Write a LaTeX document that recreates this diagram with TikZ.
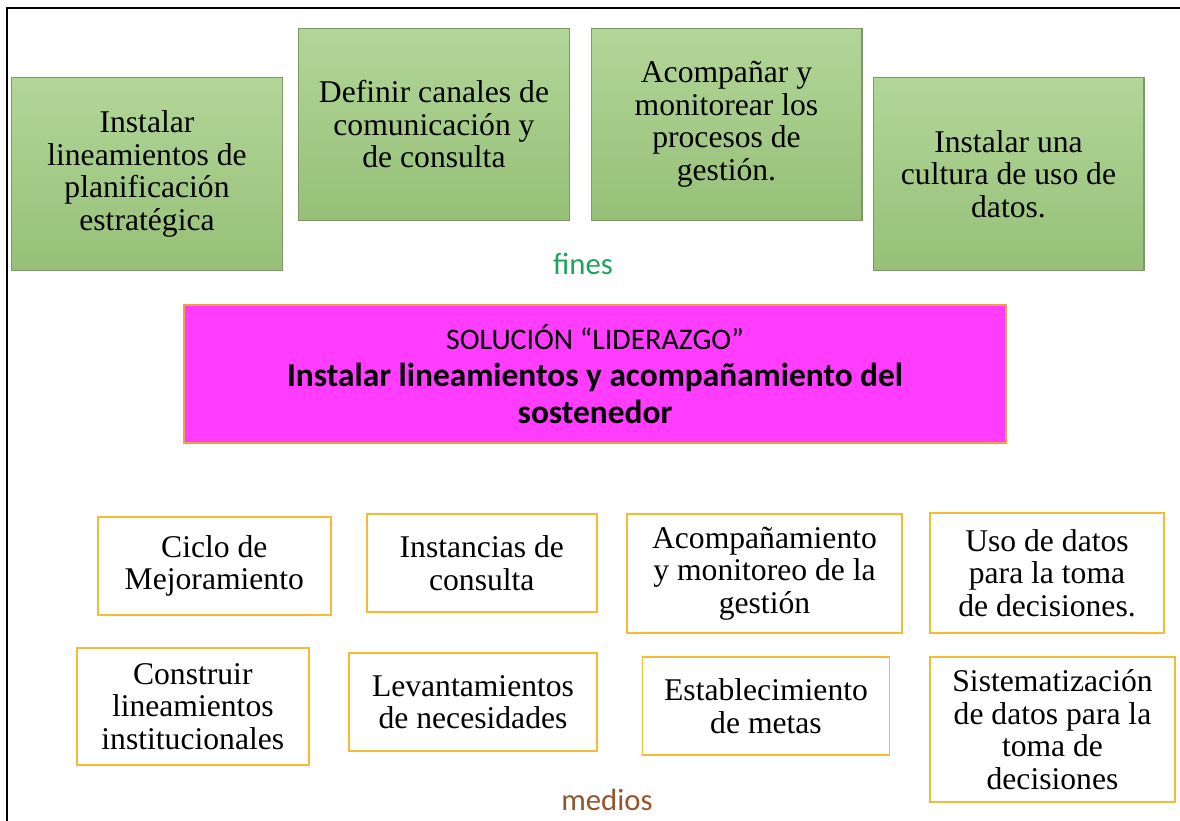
\documentclass[tikz,border=0pt]{standalone}
\usepackage{fontspec}
\setmainfont{Liberation Serif}
\newfontfamily\calibri{Carlito}
\usetikzlibrary{positioning}

\definecolor{finTop}{RGB}{178,214,152}
\definecolor{finBot}{RGB}{150,192,120}
\definecolor{finLine}{RGB}{128,150,104}
\definecolor{finText}{RGB}{30,163,92}
\definecolor{medText}{RGB}{150,84,42}
\definecolor{solFill}{RGB}{255,60,255}
\definecolor{solLine}{RGB}{238,160,70}
\definecolor{medLine}{RGB}{246,186,52}

\begin{document}
\begin{tikzpicture}[
  x=0.02cm, y=-0.02cm,
  font=\fontsize{18}{18.5}\selectfont,
  fin/.style={
    rectangle, draw=finLine, line width=0.6pt,
    top color=finTop, bottom color=finBot,
    minimum width=5.42cm, minimum height=3.85cm, align=center,
    inner sep=0pt
  },
  medio/.style={
    rectangle, draw=medLine, line width=1.1pt, fill=white,
    minimum height=1.96cm, align=center, inner sep=0pt
  },
  solucion/.style={
    rectangle, draw=solLine, line width=0.8pt, fill=solFill,
    minimum width=16.44cm, minimum height=2.76cm, align=center,
    font=\calibri\fontsize{19}{21}\selectfont
  },
  tag/.style={font=\calibri\fontsize{17.5}{20}\selectfont},
]

\useasboundingbox (0,0) rectangle (1180,821);

% Frame (left and top edges only)
\draw[line width=1.2pt] (7,821) -- (7,8) -- (1180,8);

% Fines
\node[fin] (fin1) at (147, 174)
  {Instalar\\lineamientos de\\planificación\\estratégica};
\node[fin] (fin2) at (434, 124.5)
  {Definir canales de\\comunicación y\\de consulta};
\node[fin] (fin3) at (726.5, 124.5)
  {Acompañar y\\monitorear los\\procesos de\\gestión.};
\node[fin] (fin4) at (1008.5, 174)
  {Instalar una\\cultura de uso de\\datos.};

\node[tag, text=finText] (fines) at (583, 264) {fines};

% Solution
\node[solucion] (sol) at (595, 374)
  {{\fontsize{17}{21}\selectfont SOLUCIÓN “LIDERAZGO”}\\
   \textbf{Instalar lineamientos y acompañamiento del}\\
   \textbf{sostenedor}};

% Medios, first row
\node[medio, minimum width=4.67cm] (ciclo) at (214.3, 566)
  {Ciclo de\\Mejoramiento};
\node[medio, minimum width=4.61cm] (instancias) at (481.8, 563)
  {Instancias de\\consulta};
\node[medio, minimum width=5.5cm, minimum height=2.38cm] (acomp) at (764.5, 573.5)
  {Acompañamiento\\y monitoreo de la\\gestión};
\node[medio, minimum width=4.68cm, minimum height=2.4cm] (uso) at (1047, 573)
  {Uso de datos\\para la toma\\de decisiones.};

% Medios, second row
\node[medio, minimum width=4.65cm, minimum height=2.34cm] (construir) at (192.8, 706.5)
  {Construir\\lineamientos\\institucionales};
\node[medio, minimum width=4.96cm] (levant) at (473, 702)
  {Levantamientos\\de necesidades};
\node[medio, minimum width=4.94cm] (metas) at (766, 706)
  {Establecimiento\\de metas};
\node[medio, minimum width=4.9cm, minimum height=2.9cm] (sistem) at (1052.5, 729.5)
  {Sistematización\\de datos para la\\toma de\\decisiones};

\node[tag, text=medText] (medios) at (607, 800) {medios};

\end{tikzpicture}
\end{document}
